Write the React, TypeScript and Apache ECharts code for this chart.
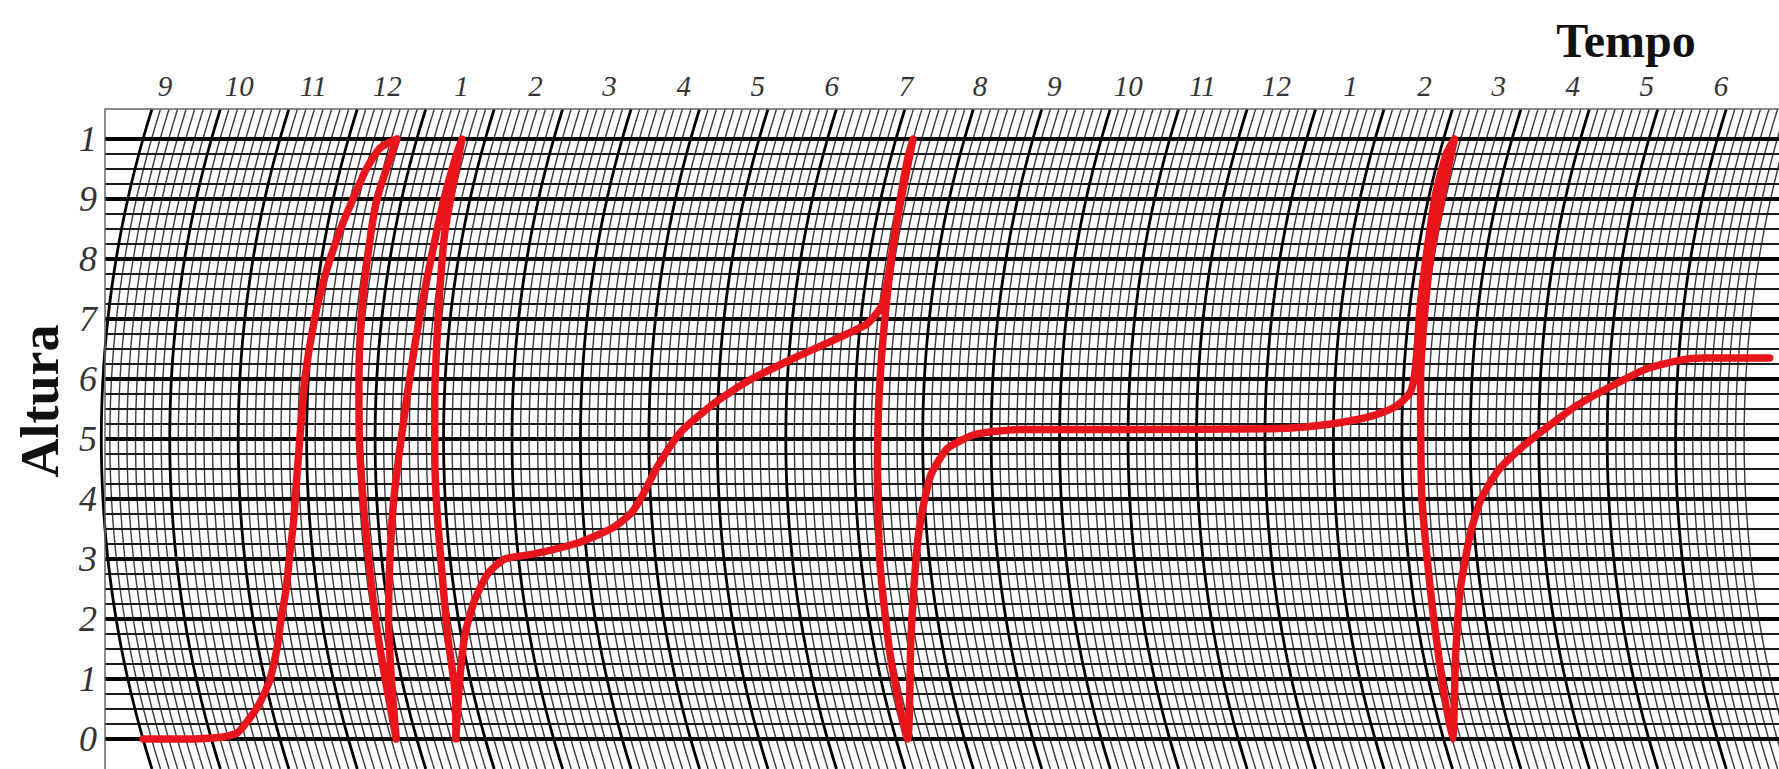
import React, { useEffect, useRef } from "react";
import * as echarts from "echarts";

// ---- tick labels ----
const HOUR_LABELS = ["9", "10", "11", "12", "1", "2", "3", "4", "5", "6", "7", "8", "9", "10", "11", "12", "1", "2", "3", "4", "5", "6"];
const ALT_LABELS = ["0", "1", "2", "3", "4", "5", "6", "7", "8", "9", "1"];
const MAJOR_ALTS = [0, 1, 2, 3, 4, 5, 6, 7, 8, 9, 10];
const MINOR_STEPS = [0.25, 0.5, 0.75];
const HOUR_ARCS = [0, 1, 2, 3, 4, 5, 6, 7, 8, 9, 10, 11, 12, 13, 14, 15, 16, 17, 18, 19, 20, 21, 22, 23];
const MINOR_PER_HOUR = 8;

// ---- pen trace: [time (hours along the drum), altitude] ----
const TRACE: [number, number][] = [
  [0.0, 0.0], [0.6, 0.0], [1.15, 0.03], [1.4, 0.1], [1.6, 0.3], [1.81, 0.55], [1.97, 0.8], [2.08, 1.0], [2.27, 1.5], [2.41, 2.0], [2.55, 2.5], [2.65, 3.0], [2.76, 3.6], [2.83, 4.2], [2.9, 5.0], [2.95, 6.0], [3.02, 7.0], [3.1, 7.8], [3.2, 8.5], [3.29, 9.0], [3.38, 9.5], [3.5, 9.85], [3.71, 10.0],
  [3.64, 9.0], [3.67, 8.0], [3.7, 7.0], [3.74, 6.0], [3.77, 5.0], [3.8, 4.0], [3.81, 3.0], [3.79, 2.0], [3.76, 1.0], [3.7, 0.0],
  [3.85, 1.0], [3.98, 2.0], [4.12, 3.0], [4.25, 4.0], [4.38, 5.0], [4.48, 6.0], [4.55, 7.0], [4.6, 8.0], [4.62, 9.0], [4.64, 9.7], [4.66, 10.0],
  [4.73, 8.5], [4.79, 7.6], [4.84, 6.6], [4.86, 5.7], [4.87, 4.7], [4.87, 3.8], [4.86, 2.85], [4.8, 1.7], [4.71, 0.6], [4.57, 0.0],
  [4.84, 0.96], [5.05, 1.72], [5.27, 2.29], [5.53, 2.76], [5.8, 3.0], [6.22, 3.08], [6.9, 3.27], [7.42, 3.52], [7.7, 3.76], [7.87, 4.03], [8.13, 4.56], [8.47, 5.12], [8.95, 5.6], [9.43, 5.97], [10.08, 6.35], [10.71, 6.69], [11.1, 6.92], [11.29, 7.24], [11.32, 7.96], [11.29, 8.9], [11.25, 9.66], [11.25, 10.0],
  [11.31, 8.5], [11.35, 7.0], [11.35, 5.7], [11.33, 4.4], [11.27, 2.85], [11.21, 1.34], [11.17, 0.0],
  [11.57, 1.72], [11.88, 3.42], [12.1, 4.37], [12.36, 4.84], [12.78, 5.08], [13.44, 5.16], [15.0, 5.16], [17.09, 5.17], [17.58, 5.2], [18.08, 5.27], [18.58, 5.39], [18.9, 5.54], [19.11, 5.78], [19.17, 6.26], [19.15, 7.2], [19.13, 8.15], [19.09, 9.09], [19.1, 9.75], [19.16, 10.0],
  [19.2, 8.0], [19.25, 6.0], [19.27, 4.0], [19.25, 2.0], [19.13, 0.0],
  [19.46, 1.34], [19.7, 2.48], [19.94, 3.42], [20.13, 3.99], [20.39, 4.46], [20.73, 4.84], [21.15, 5.22], [21.55, 5.56], [22.04, 5.88], [22.52, 6.16], [23.01, 6.31], [23.34, 6.35], [24.33, 6.35],
];

// ---- drum geometry (pen arm arc) ----
const HOUR_PX = 68.45;
const ALT_PX = 60;
const R_PX = 1100;
const X_MIN = -0.019;
const X_MAX = 24.51;
const FRAME_LEFT = 0.054;
const ALT_BOTTOM = -0.5;
const ALT_TOP = 10.5;

function bow(alt: number): number {
  const dy = (alt - 5) * ALT_PX;
  return (R_PX - Math.sqrt(R_PX * R_PX - dy * dy)) / HOUR_PX;
}
function toXY(t: number, a: number): [number, number] {
  return [t + bow(a), a];
}
function arc(t: number): [number, number][] {
  const pts: [number, number][] = [];
  for (let a = ALT_BOTTOM; a <= ALT_TOP + 1e-9; a += 0.25) pts.push(toXY(t, a));
  return pts;
}

export default function App() {
  const ref = useRef<HTMLDivElement>(null);
  useEffect(() => {
    if (!ref.current) return;
    const chart = echarts.init(ref.current, undefined, { renderer: "svg" });

    const minorV: any[] = [];
    HOUR_ARCS.forEach((h) => {
      for (let j = 1; j < MINOR_PER_HOUR; j++) minorV.push({ coords: arc(h + j / MINOR_PER_HOUR) });
    });
    minorV.push({ coords: arc(HOUR_ARCS.length) });
    const majorV = HOUR_ARCS.map((h) => ({ coords: arc(h) }));
    const minorH: any[] = [];
    MAJOR_ALTS.slice(0, -1).forEach((a) =>
      MINOR_STEPS.forEach((s) => minorH.push({ coords: [[FRAME_LEFT, a + s], [X_MAX, a + s]] }))
    );
    const majorH = MAJOR_ALTS.map((a) => ({ coords: [[FRAME_LEFT, a], [X_MAX, a]] }));
    const frame = [{ coords: [[FRAME_LEFT, ALT_BOTTOM - 1], [FRAME_LEFT, ALT_TOP], [X_MAX + 1, ALT_TOP]] }];

    const serif = "'Liberation Serif', 'DejaVu Serif', serif";
    const linesBase = {
      type: "lines",
      coordinateSystem: "cartesian2d",
      xAxisIndex: 0,
      yAxisIndex: 0,
      polyline: true,
      silent: true,
      clip: true,
    };

    chart.setOption({
      animation: false,
      backgroundColor: "#ffffff",
      grid: [
        { left: 100, right: 0, top: 106, bottom: 0 },
        { left: 128, width: 1630, top: 108, height: 1 },
        { left: 105, width: 1, top: 139, height: 600 },
      ],
      xAxis: [
        { gridIndex: 0, type: "value", min: X_MIN, max: X_MAX, show: false },
        {
          gridIndex: 1,
          type: "category",
          data: HOUR_LABELS,
          position: "top",
          axisLine: { show: false },
          axisTick: { show: false },
          axisLabel: { interval: 0, fontStyle: "italic", fontFamily: serif, fontSize: 29, color: "#333", margin: 8 },
        },
        { gridIndex: 2, type: "value", show: false },
      ],
      yAxis: [
        { gridIndex: 0, type: "value", min: ALT_BOTTOM, max: 10.55, show: false },
        { gridIndex: 1, type: "value", show: false },
        {
          gridIndex: 2,
          type: "value",
          min: 0,
          max: 10,
          interval: 1,
          axisLine: { show: false },
          axisTick: { show: false },
          splitLine: { show: false },
          axisLabel: {
            formatter: (v: number) => ALT_LABELS[Math.round(v)],
            fontStyle: "italic",
            fontFamily: serif,
            fontSize: 36,
            color: "#333",
            margin: 8,
          },
        },
      ],
      graphic: [
        {
          type: "text",
          x: 1626,
          y: 40,
          style: { text: "Tempo", font: `bold 48px ${serif}`, fill: "#111", textAlign: "center", textVerticalAlign: "middle" },
        },
        {
          type: "text",
          x: 40,
          y: 401,
          rotation: Math.PI / 2,
          style: { text: "Altura", font: `bold 54px ${serif}`, fill: "#111", textAlign: "center", textVerticalAlign: "middle" },
        },
      ],
      series: [
        { ...linesBase, data: minorV, lineStyle: { color: "#3a3a3a", width: 1.4, opacity: 1 }, z: 1 },
        { ...linesBase, data: minorH, lineStyle: { color: "#1a1a1a", width: 1.8, opacity: 1 }, z: 2 },
        { ...linesBase, data: majorV, lineStyle: { color: "#000", width: 2.8, opacity: 1 }, z: 3 },
        { ...linesBase, data: majorH, lineStyle: { color: "#000", width: 4, opacity: 1 }, z: 4 },
        { ...linesBase, data: frame, lineStyle: { color: "#666", width: 1.5, opacity: 1 }, z: 5 },
        {
          type: "line",
          xAxisIndex: 0,
          yAxisIndex: 0,
          data: TRACE.map(([t, a]) => toXY(t, a)),
          showSymbol: false,
          smooth: 0.2,
          lineStyle: { color: "#e8161c", width: 7.5, cap: "round", join: "round" },
          z: 10,
          silent: true,
        },
      ],
    });
    return () => chart.dispose();
  }, []);
  return <div ref={ref} style={{ position: "absolute", left: 0, top: 0, width: 1779, height: 769 }} />;
}
